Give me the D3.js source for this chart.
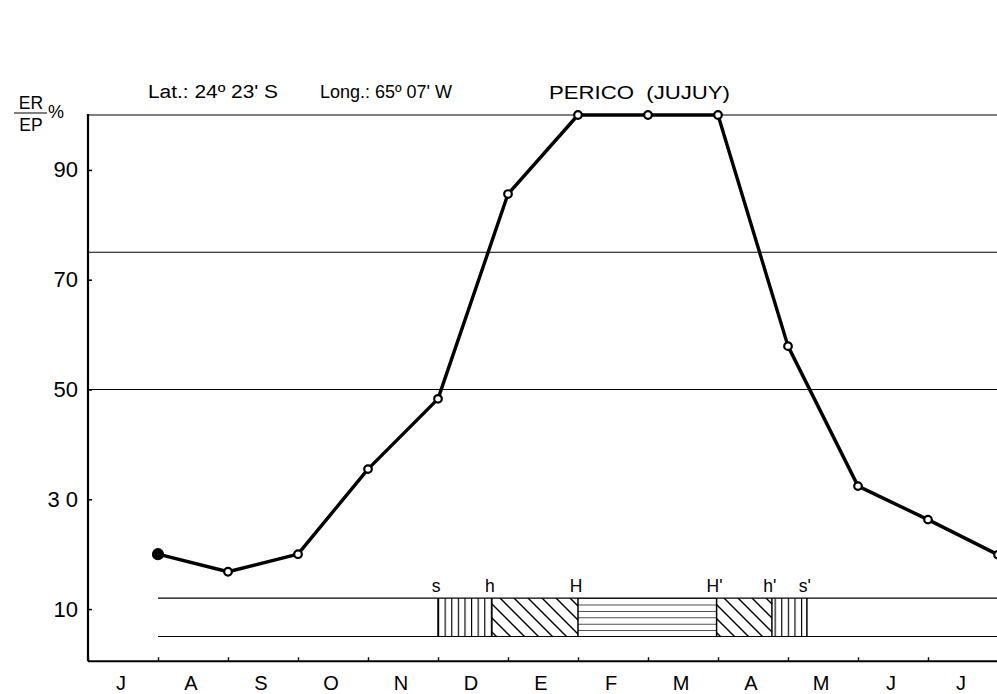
<!DOCTYPE html>
<html>
<head>
<meta charset="utf-8">
<script src="https://cdn.jsdelivr.net/npm/d3@7"></script>
<style>
  html, body { margin: 0; padding: 0; background: #fff; }
  svg { display: block; font-family: "Liberation Sans", Arial, sans-serif; }
</style>
</head>
<body>
<svg id="chart" width="997" height="694"></svg>
<script>
// ---- data ----
const months = ["J", "A", "S", "O", "N", "D", "E", "F", "M", "A", "M", "J", "J"];
const ratioValues = [20, 16.8, 20, 35.5, 48.3, 85.6, 100, 100, 100, 57.9, 32.4, 26.3, 19.9]; // ER/EP % at end of each month
const yTicks = [10, 30, 50, 70, 90];
const yTickLabels = ["10", "3 0", "50", "70", "90"];
const gridLevels = [50, 75, 100];
const stageLabels = ["s", "h", "H", "H'", "h'", "s'"];
const stageBounds = [5.0, 5.77, 7.0, 8.98, 9.77, 10.27]; // in month units
const stageFills = ["vert", "diag", "horiz", "diag", "vert"];
const bandRange = [5, 12]; // band vertical extent in % units
const bandStart = 1, bandEnd = 13;
const titleLat = "Lat.: 24º 23' S";
const titleLong = "Long.: 65º 07' W";
const titleStation = "PERICO  (JUJUY)";

// ---- scales ----
const svg = d3.select("#chart");
const x = d3.scaleLinear().domain([0, months.length]).range([88, 998]);
const y = d3.scaleLinear().domain([0, 100]).range([664, 115]);

// patterns
const defs = svg.append("defs");
const pv = defs.append("pattern").attr("id", "vert").attr("patternUnits", "userSpaceOnUse")
  .attr("width", 6.6).attr("height", 10).attr("x", x(stageBounds[0]));
pv.append("line").attr("x1", 0.5).attr("x2", 0.5).attr("y1", 0).attr("y2", 10)
  .attr("stroke", "#000").attr("stroke-width", 1.3);
const pd = defs.append("pattern").attr("id", "diag").attr("patternUnits", "userSpaceOnUse")
  .attr("width", 14).attr("height", 14);
pd.append("path").attr("d", "M-1,-1 L15,15 M-8,6 L1,15 M6,-8 L15,1")
  .attr("stroke", "#000").attr("stroke-width", 1.4);
const bandTop = y(bandRange[1]), bandBot = y(bandRange[0]);
const hStep = (bandBot - bandTop) / 6;
const ph = defs.append("pattern").attr("id", "horiz").attr("patternUnits", "userSpaceOnUse")
  .attr("width", 20).attr("height", hStep).attr("y", bandTop);
ph.append("line").attr("x1", 0).attr("x2", 20).attr("y1", 0).attr("y2", 0)
  .attr("stroke", "#000").attr("stroke-width", 1.4);

// ---- grid lines ----
svg.append("g").selectAll("line").data(gridLevels).join("line")
  .attr("x1", x(0)).attr("x2", x(months.length))
  .attr("y1", d => y(d)).attr("y2", d => y(d))
  .attr("stroke", "#000").attr("stroke-width", 1.1);

// ---- band ----
const band = svg.append("g");
band.selectAll("line.edge").data(bandRange).join("line").attr("class", "edge")
  .attr("x1", x(bandStart)).attr("x2", x(bandEnd))
  .attr("y1", d => y(d)).attr("y2", d => y(d))
  .attr("stroke", "#000").attr("stroke-width", 1.1);
const segs = stageFills.map((f, i) => ({ f, a: stageBounds[i], b: stageBounds[i + 1] }));
band.selectAll("rect").data(segs).join("rect")
  .attr("x", d => x(d.a)).attr("width", d => x(d.b) - x(d.a))
  .attr("y", bandTop).attr("height", bandBot - bandTop)
  .attr("fill", d => `url(#${d.f})`);
band.selectAll("line.bound").data(stageBounds).join("line").attr("class", "bound")
  .attr("x1", d => x(d)).attr("x2", d => x(d))
  .attr("y1", bandTop).attr("y2", bandBot)
  .attr("stroke", "#000").attr("stroke-width", 1.5);
band.selectAll("text").data(stageLabels).join("text")
  .attr("x", (d, i) => x(stageBounds[i]) - 2)
  .attr("y", bandTop - 6)
  .attr("text-anchor", "middle")
  .attr("font-size", 17.5)
  .text(d => d);

// ---- axes ----
const yAxis = d3.axisLeft(y).tickValues(yTicks).tickSize(-4).tickPadding(10)
  .tickFormat((d, i) => yTickLabels[i]);
const gy = svg.append("g").attr("transform", `translate(${x(0)},0)`).call(yAxis);
gy.select(".domain").remove();
gy.selectAll("text").attr("font-size", 22).attr("font-family", "Liberation Sans, Arial, sans-serif").attr("fill", "#000");
gy.selectAll("line").attr("stroke", "#000").attr("stroke-width", 1.5);
svg.append("line").attr("x1", x(0)).attr("x2", x(0)).attr("y1", y(100) - 1).attr("y2", y(0.5))
  .attr("stroke", "#000").attr("stroke-width", 2.2);

const xAxis = d3.axisBottom(x).tickValues(d3.range(0, months.length + 1)).tickSize(-4).tickFormat("");
const gx = svg.append("g").attr("transform", `translate(0,${y(0.5)})`).call(xAxis);
gx.select(".domain").attr("stroke-width", 2.2).attr("d", `M${x(0)},0H${x(months.length)}`);
gx.selectAll("line").attr("stroke", "#000").attr("stroke-width", 1.4);
svg.append("g").selectAll("text").data(months).join("text")
  .attr("x", (d, i) => x(i + 0.5) - 2)
  .attr("y", 676)
  .attr("dy", "0.71em")
  .attr("text-anchor", "middle")
  .attr("font-size", 20)
  .text(d => d);

// ---- line ----
const pts = ratioValues.map((v, i) => [x(i + 1), y(v)]);
svg.append("path").datum(pts)
  .attr("d", d3.line())
  .attr("fill", "none").attr("stroke", "#000").attr("stroke-width", 3.4)
  .attr("stroke-linejoin", "round");
svg.append("g").selectAll("circle").data(pts).join("circle")
  .attr("cx", d => d[0]).attr("cy", d => d[1])
  .attr("r", (d, i) => i === 0 ? 5 : 3.8)
  .attr("fill", (d, i) => i === 0 ? "#000" : "#fff")
  .attr("stroke", "#000").attr("stroke-width", 2.2);

// ---- titles ----
svg.append("text").attr("x", 148).attr("y", 98).attr("font-size", 18)
  .attr("textLength", 130).attr("lengthAdjust", "spacingAndGlyphs").text(titleLat);
svg.append("text").attr("x", 320).attr("y", 98).attr("font-size", 18)
  .attr("textLength", 132).attr("lengthAdjust", "spacingAndGlyphs").text(titleLong);
svg.append("text").attr("x", 549).attr("y", 99).attr("font-size", 18.5)
  .attr("textLength", 181).attr("lengthAdjust", "spacingAndGlyphs")
  .style("white-space", "pre").text(titleStation);

// y unit fraction ER/EP %
svg.append("text").attr("x", 31).attr("y", 109).attr("text-anchor", "middle").attr("font-size", 17.5).text("ER");
svg.append("line").attr("x1", 14).attr("x2", 47).attr("y1", 113).attr("y2", 113).attr("stroke", "#000").attr("stroke-width", 1.2);
svg.append("text").attr("x", 31).attr("y", 131).attr("text-anchor", "middle").attr("font-size", 17.5).text("EP");
svg.append("text").attr("x", 48).attr("y", 118).attr("font-size", 18).text("%");
</script>
</body>
</html>
